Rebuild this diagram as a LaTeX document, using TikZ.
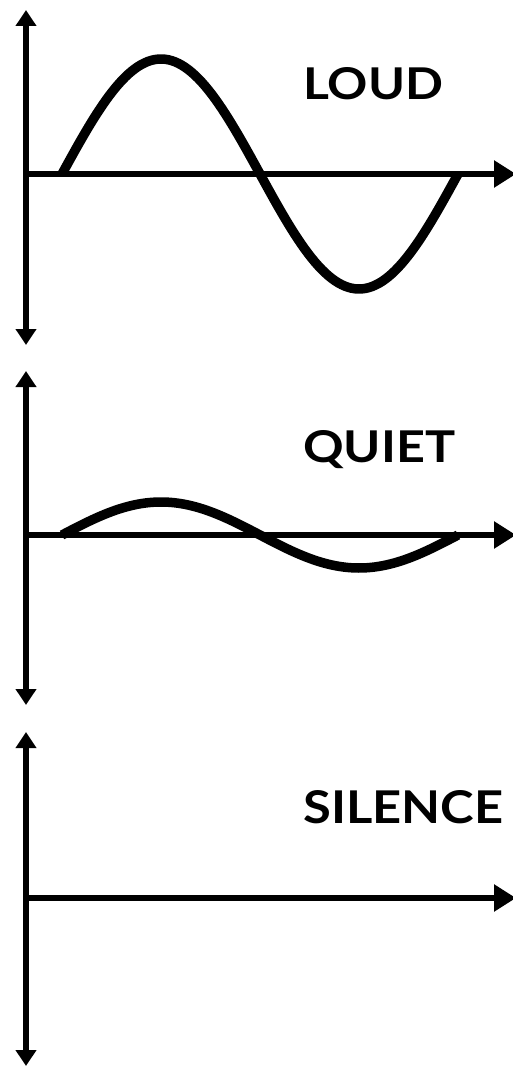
\documentclass[tikz,border=0pt]{standalone}
\usepackage{fontspec}
\usepackage{graphicx}
\setmainfont{Lato}
\usetikzlibrary{arrows.meta}
\begin{document}
\begin{tikzpicture}[x=1pt,y=-1pt,
  axis/.style={line width=5.5pt, black},
  vaxis/.style={axis, {Triangle[width=20pt,length=16pt]}-{Triangle[width=20pt,length=16pt]}},
  haxis/.style={axis, -{Triangle[width=26pt,length=22pt]}},
  wave/.style={line width=9.5pt, black},
  wordlabel/.style={anchor=base west, inner sep=0pt, font=\bfseries}]
\useasboundingbox (0,0) rectangle (512,1067);

% panel 1 : LOUD
\coordinate (v1t) at (26,10);
\coordinate (v1b) at (26,345);
\coordinate (h1l) at (26,174);
\coordinate (h1r) at (516,174);
\draw[vaxis] (v1t) -- (v1b);
\draw[haxis] (h1l) -- (h1r);
\draw[wave] plot[domain=0:360, samples=120] ({62+\x*1.1}, {174-115*sin(\x)});
\node[wordlabel] (loud) at (303,100) {\resizebox{140pt}{32pt}{LOUD}};

% panel 2 : QUIET
\coordinate (v2t) at (26,371);
\coordinate (v2b) at (26,705);
\coordinate (h2l) at (26,535);
\coordinate (h2r) at (516,535);
\draw[vaxis] (v2t) -- (v2b);
\draw[haxis] (h2l) -- (h2r);
\draw[wave] plot[domain=0:360, samples=120] ({62+\x*1.1}, {535-33*sin(\x)});
\node[wordlabel] (quiet) at (303,462) {\resizebox{152pt}{32pt}{QUIET}};

% panel 3 : SILENCE
\coordinate (v3t) at (26,732);
\coordinate (v3b) at (26,1066);
\coordinate (h3l) at (26,898);
\coordinate (h3r) at (516,898);
\draw[vaxis] (v3t) -- (v3b);
\draw[haxis] (h3l) -- (h3r);
\node[wordlabel] (silence) at (303,823) {\resizebox{200pt}{33pt}{SILENCE}};
\end{tikzpicture}
\end{document}
